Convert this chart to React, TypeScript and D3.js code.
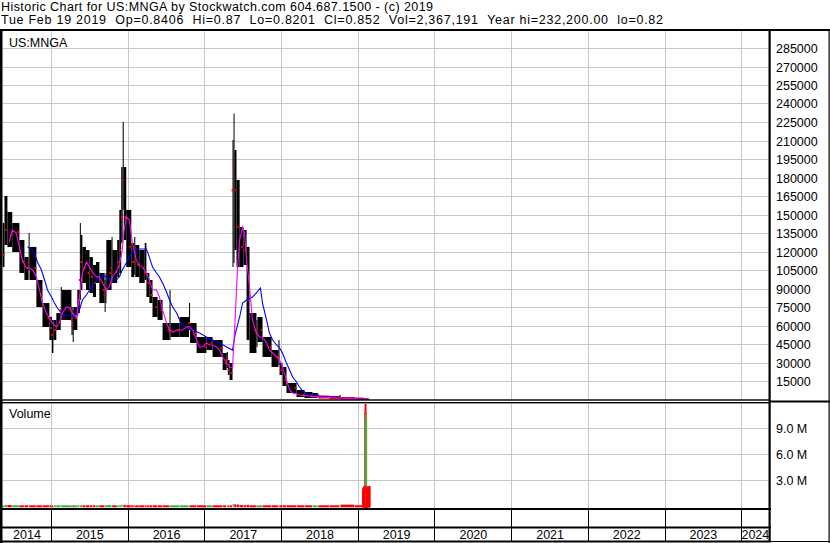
import React, { useEffect, useRef } from 'react';
import * as d3 from 'd3';

// header text
const titleLine = 'Historic Chart for US:MNGA by Stockwatch.com 604.687.1500 - (c) 2019';
const quoteParts = ['Tue Feb 19 2019', 'Op=0.8406', 'Hi=0.87', 'Lo=0.8201', 'Cl=0.852', 'Vol=2,367,191', 'Year hi=232,200.00', 'lo=0.82'];
const symbol = 'US:MNGA';

// price bars (split-adjusted)
const barDates = [
  '2014-05-12', '2014-05-22', '2014-06-05', '2014-06-28', '2014-08-01', '2014-08-25', '2014-09-14', '2014-09-18',
  '2014-10-21', '2014-11-19', '2014-12-22', '2015-01-03', '2015-01-10', '2015-01-24', '2015-02-14', '2015-02-19',
  '2015-04-06', '2015-04-12', '2015-04-15', '2015-05-04', '2015-05-16', '2015-05-20', '2015-05-28', '2015-06-14',
  '2015-07-01', '2015-07-17', '2015-08-01', '2015-08-17', '2015-09-11', '2015-09-15', '2015-09-19', '2015-10-14',
  '2015-10-18', '2015-11-10', '2015-11-20', '2015-11-29', '2015-12-06', '2015-12-11', '2015-12-23', '2016-01-16',
  '2016-01-30', '2016-02-04', '2016-02-23', '2016-03-20', '2016-03-28', '2016-04-11', '2016-04-26', '2016-05-20',
  '2016-06-13', '2016-07-16', '2016-07-21', '2016-09-02', '2016-10-17', '2016-10-22', '2016-11-22', '2017-01-08',
  '2017-02-06', '2017-03-26', '2017-04-14', '2017-04-20', '2017-04-28', '2017-05-12', '2017-05-17', '2017-05-21',
  '2017-05-31', '2017-06-15', '2017-07-03', '2017-07-18', '2017-08-01', '2017-09-03', '2017-09-08', '2017-10-02',
  '2017-11-14', '2017-12-17', '2017-12-22', '2018-01-05', '2018-01-24', '2018-03-13', '2018-04-20', '2018-05-28',
  '2018-06-20', '2018-06-25', '2018-08-17', '2018-10-04', '2018-10-09', '2018-12-14', '2019-01-26', '2019-02-19'
];
const barHigh = [
  143500, 165400, 152400, 143500, 129700, 115900, 135400, 124100,
  97300, 78600, 67300, 64900, 64900, 70500, 91600, 89200,
  75400, 73000, 75400, 89200, 143500, 133800, 124100, 121600,
  115900, 109500, 111900, 103000, 97300, 103000, 129700, 132200,
  121600, 129700, 154100, 188900, 225400, 188900, 154100, 127300,
  132200, 125700, 121600, 127300, 103000, 97300, 83500, 81100,
  62400, 89200, 62400, 67300, 78600, 62400, 51100, 51100,
  48600, 38100, 38900, 32400, 30000, 210800, 232200, 202700,
  178400, 140300, 137800, 124100, 70500, 64900, 67300, 51100,
  40500, 48600, 30000, 26800, 13800, 8100, 6500, 5700,
  5700, 3200, 3200, 4100, 2400, 1200, 600, 0.87
];
const barLow = [
  107800, 125700, 124100, 120000, 103000, 97300, 105400, 97300,
  75400, 59200, 48600, 38100, 48600, 56800, 64900, 64900,
  52700, 47000, 56800, 70500, 81100, 89200, 94900, 89200,
  86800, 83500, 94900, 78600, 71400, 78600, 89200, 94900,
  94900, 99700, 103000, 127300, 154100, 129700, 107800, 99700,
  101400, 99700, 94900, 97300, 83500, 78600, 67300, 64900,
  48600, 48600, 51100, 51100, 56800, 46200, 38100, 40500,
  34900, 24300, 25900, 20300, 16200, 107800, 111100, 121600,
  107800, 107800, 109500, 48600, 38100, 43000, 47000, 34900,
  26800, 28400, 20300, 11400, 5700, 2400, 1600, 1600,
  2400, 1600, 800, 800, 400, 200, 100, 0.82
];
const barClose = [
  117600, 137800, 133800, 136200, 111900, 107000, 111900, 107000,
  85100, 66500, 58400, 52700, 56800, 63200, 73000, 74600,
  64900, 60800, 66500, 81100, 97300, 111900, 107000, 103000,
  99700, 94900, 99700, 89200, 85100, 89200, 103000, 107000,
  103800, 111900, 121600, 148400, 178400, 148400, 124100, 111900,
  111900, 109500, 107000, 103000, 94900, 85100, 75400, 73000,
  56800, 55100, 56800, 59200, 62400, 54300, 43000, 46200,
  42200, 30000, 32400, 24300, 21900, 170000, 190000, 170000,
  140300, 124100, 121600, 81100, 56800, 54300, 56800, 43000,
  34900, 34900, 24300, 16200, 9700, 4100, 3200, 3200,
  3200, 2400, 1600, 1600, 1200, 800, 300, 0.852
];
const barVolume = [
  180000, 220000, 200000, 150000, 160000, 140000, 170000, 150000,
  130000, 140000, 120000, 160000, 150000, 130000, 180000, 160000,
  120000, 150000, 130000, 140000, 200000, 190000, 170000, 150000,
  140000, 130000, 150000, 140000, 160000, 150000, 190000, 170000,
  150000, 160000, 200000, 240000, 260000, 220000, 180000, 150000,
  160000, 140000, 150000, 170000, 140000, 130000, 120000, 130000,
  120000, 160000, 130000, 120000, 150000, 130000, 120000, 110000,
  120000, 130000, 140000, 150000, 150000, 300000, 320000, 280000,
  250000, 200000, 180000, 220000, 160000, 150000, 170000, 140000,
  130000, 140000, 150000, 160000, 150000, 140000, 130000, 120000,
  150000, 130000, 120000, 150000, 250000, 180000
];

// moving averages
const shortMaDates = [
  '2014-06-14', '2014-06-28', '2014-07-17', '2014-08-01', '2014-08-15', '2014-09-03', '2014-09-18', '2014-10-03',
  '2014-10-21', '2014-11-05', '2014-11-19', '2014-12-08', '2014-12-22', '2015-01-06', '2015-01-24', '2015-02-07',
  '2015-02-22', '2015-03-13', '2015-03-27', '2015-04-11', '2015-04-30', '2015-05-14', '2015-05-28', '2015-06-16',
  '2015-07-01', '2015-07-15', '2015-08-03', '2015-08-17', '2015-09-01', '2015-09-19', '2015-10-03', '2015-10-18',
  '2015-11-05', '2015-11-20', '2015-12-04', '2015-12-13', '2015-12-23', '2016-01-07', '2016-01-21', '2016-02-09',
  '2016-02-23', '2016-03-09', '2016-03-28', '2016-04-11', '2016-04-26', '2016-05-15', '2016-05-29', '2016-06-13',
  '2016-07-02', '2016-07-16', '2016-07-31', '2016-08-19', '2016-09-02', '2016-09-16', '2016-10-05', '2016-10-20',
  '2016-11-03', '2016-11-22', '2016-12-06', '2016-12-20', '2017-01-08', '2017-01-23', '2017-02-06', '2017-02-25',
  '2017-03-11', '2017-03-26', '2017-04-14', '2017-04-28', '2017-05-12', '2017-05-26', '2017-06-05', '2017-06-15',
  '2017-06-29', '2017-07-08', '2017-07-18', '2017-08-01', '2017-08-15', '2017-09-03', '2017-09-18', '2017-10-02',
  '2017-10-21', '2017-11-04', '2017-11-19', '2017-12-08', '2017-12-22', '2018-01-05', '2018-01-24', '2018-02-08',
  '2018-02-22', '2018-03-27', '2018-07-01', '2018-10-04', '2019-02-19'
];
const shortMaValues = [
  128100, 137800, 135400, 124100, 113500, 107000, 107000, 105400,
  99700, 89200, 78600, 70500, 66500, 62400, 59200, 62400,
  70500, 75400, 74600, 70500, 67300, 83500, 103000, 111900,
  107800, 103800, 99700, 99700, 94900, 89200, 91600, 99700,
  103800, 109500, 121600, 137800, 148400, 145900, 127300, 113500,
  109500, 107800, 103000, 97300, 89200, 89200, 83500, 73000,
  62400, 56800, 55100, 56800, 56800, 56800, 59200, 59200,
  56800, 48600, 43000, 43000, 46200, 44600, 44600, 43000,
  40500, 34900, 30000, 26800, 26000, 70500, 107800, 129700,
  140300, 135400, 113500, 91600, 64900, 54300, 51100, 51100,
  46200, 40500, 38100, 34900, 32400, 26800, 16200, 8100,
  5700, 4100, 2400, 1600, 400
];
const longMaDates = [
  '2014-09-08', '2014-09-27', '2014-10-11', '2014-10-26', '2014-11-14', '2014-11-29', '2014-12-13', '2015-01-01',
  '2015-01-15', '2015-01-29', '2015-02-17', '2015-03-03', '2015-03-17', '2015-04-06', '2015-04-20', '2015-05-04',
  '2015-05-14', '2015-05-28', '2015-06-16', '2015-07-01', '2015-07-15', '2015-08-03', '2015-08-17', '2015-09-01',
  '2015-09-19', '2015-10-03', '2015-11-05', '2015-11-20', '2015-12-04', '2015-12-23', '2016-01-07', '2016-01-21',
  '2016-02-09', '2016-03-28', '2016-04-11', '2016-04-26', '2016-05-15', '2016-05-29', '2016-06-13', '2016-07-02',
  '2016-07-16', '2016-07-31', '2016-08-19', '2016-09-02', '2016-09-16', '2016-10-05', '2016-11-03', '2016-12-06',
  '2017-01-08', '2017-02-06', '2017-03-11', '2017-04-14', '2017-05-12', '2017-05-26', '2017-06-15', '2017-06-29',
  '2017-07-18', '2017-08-15', '2017-09-03', '2017-09-22', '2017-10-02', '2017-10-21', '2017-11-04', '2017-11-19',
  '2017-12-08', '2017-12-22', '2018-01-05', '2018-01-24', '2018-02-08', '2018-02-22', '2018-03-13', '2018-03-27',
  '2018-04-11', '2018-04-29', '2018-05-28', '2018-07-01', '2018-08-17', '2018-10-04', '2018-12-14', '2019-02-19'
];
const longMaValues = [
  124100, 123200, 119200, 111900, 105400, 97300, 89200, 83500,
  78600, 74600, 70500, 68900, 68900, 68100, 67300, 68900,
  73000, 81100, 85100, 89200, 93200, 97300, 99700, 101400,
  99700, 97300, 97300, 99700, 105400, 111100, 115900, 120000,
  122400, 122400, 115900, 107800, 103000, 99700, 94900, 87600,
  81100, 75400, 70500, 64900, 60800, 59200, 56800, 54300,
  51100, 48600, 46200, 43000, 40500, 54300, 67300, 78600,
  81100, 83500, 86800, 90800, 78600, 64900, 54300, 48600,
  44600, 42200, 38100, 30000, 24300, 18600, 14600, 10500,
  7300, 5700, 4100, 3200, 2400, 1600, 1200, 400
];

// daily volume around the final spike
const spikeDates = [
  '2019-01-22', '2019-01-23', '2019-01-24', '2019-01-25', '2019-01-28', '2019-01-29', '2019-01-30', '2019-01-31',
  '2019-02-01', '2019-02-04', '2019-02-05', '2019-02-06', '2019-02-07', '2019-02-08', '2019-02-11', '2019-02-12',
  '2019-02-13', '2019-02-14', '2019-02-15', '2019-02-19'
];
const spikeVolume = [
  1900000, 2100000, 2000000, 2200000, 2300000, 2100000, 2400000, 11900000,
  10800000, 10600000, 10200000, 2200000, 2400000, 2300000, 2100000, 2200000,
  2000000, 2300000, 2100000, 2367191
];
const spikeUp = [
  false, false, false, false, false, false, false, false,
  false, true, true, false, false, false, false, false,
  false, false, false, false
];

const priceTicks = [15000, 30000, 45000, 60000, 75000, 90000, 105000, 120000, 135000, 150000,
  165000, 180000, 195000, 210000, 225000, 240000, 255000, 270000, 285000];
const volumeTicks = [3000000, 6000000, 9000000];
const volumeTickLabels = ['3.0 M', '6.0 M', '9.0 M'];
const years = [2014, 2015, 2016, 2017, 2018, 2019, 2020, 2021, 2022, 2023, 2024];

const FONT = "'Liberation Sans', Arial, sans-serif";

export default function App() {
  const svgRef = useRef<SVGSVGElement>(null);

  useEffect(() => {
    if (!svgRef.current) return;
    document.body.style.margin = '0';
    const svg = d3.select(svgRef.current);
    svg.selectAll('*').remove();

    const parse = d3.utcParse('%Y-%m-%d');
    const plotL = 2.5, plotR = 769;
    const x = d3.scaleUtc()
      .domain([parse('2015-01-01')!, parse('2024-01-01')!])
      .range([51.5, 741.7]);
    const yP = d3.scaleLinear().domain([0, 300000]).range([400, 30]);
    const yV = d3.scaleLinear().domain([0, 9000000]).range([506.8, 428.3]);
    const grid = '#c8c8c8';

    svg.append('rect').attr('width', 830).attr('height', 543).attr('fill', '#fff');

    const defs = svg.append('defs');
    defs.append('clipPath').attr('id', 'pclip').append('rect')
      .attr('x', plotL).attr('y', 31).attr('width', plotR - plotL).attr('height', 368.5);
    defs.append('clipPath').attr('id', 'vclip').append('rect')
      .attr('x', plotL).attr('y', 404).attr('width', plotR - plotL).attr('height', 104);

    // grid
    const g = svg.append('g');
    priceTicks.forEach(v => {
      const yy = Math.floor(yP(v)) + 0.5;
      g.append('line').attr('x1', plotL).attr('x2', plotR).attr('y1', yy).attr('y2', yy)
        .attr('stroke', grid).attr('stroke-width', 1);
    });
    volumeTicks.forEach(v => {
      const yy = Math.floor(yV(v)) + 0.5;
      g.append('line').attr('x1', plotL).attr('x2', plotR).attr('y1', yy).attr('y2', yy)
        .attr('stroke', grid).attr('stroke-width', 1);
    });
    years.slice(1).forEach(yr => {
      const xx = Math.floor(x(parse(`${yr}-01-01`)!)) + 0.5;
      g.append('line').attr('x1', xx).attr('x2', xx).attr('y1', 31).attr('y2', 399.5)
        .attr('stroke', grid);
      g.append('line').attr('x1', xx).attr('x2', xx).attr('y1', 403.5).attr('y2', 508)
        .attr('stroke', grid);
    });

    // price bars
    const pg = svg.append('g').attr('clip-path', 'url(#pclip)');
    const n = barDates.length;
    barDates.forEach((d, i) => {
      const x0 = x(parse(d)!);
      const x1 = i < n - 1 ? x(parse(barDates[i + 1])!) : x0 + 1;
      const w = Math.max(1, x1 - x0);
      const top = yP(barHigh[i]);
      const h = Math.max(1, yP(barLow[i]) - top);
      pg.append('rect').attr('x', x0).attr('y', top).attr('width', w).attr('height', h).attr('fill', '#000');
      const cy = yP(barClose[i]);
      if (h < 4) {
        pg.append('rect').attr('x', x0).attr('y', cy - 1.5).attr('width', w).attr('height', 3).attr('fill', '#ff0000');
      } else {
        pg.append('rect').attr('x', x0 + w - 2).attr('y', cy - 1).attr('width', 2).attr('height', 2).attr('fill', '#ff0000');
      }
    });

    const line = d3.line<[Date, number]>().x(d => x(d[0])).y(d => yP(d[1]));
    pg.append('path')
      .attr('d', line(longMaDates.map((d, i) => [parse(d)!, longMaValues[i]])))
      .attr('fill', 'none').attr('stroke', '#0000ff').attr('stroke-width', 1.1);
    pg.append('path')
      .attr('d', line(shortMaDates.map((d, i) => [parse(d)!, shortMaValues[i]])))
      .attr('fill', 'none').attr('stroke', '#ff00ff').attr('stroke-width', 1.1);

    // volume
    const vg = svg.append('g').attr('clip-path', 'url(#vclip)');
    barVolume.forEach((v, i) => {
      const x0 = x(parse(barDates[i])!);
      const x1 = x(parse(barDates[i + 1])!);
      const top = Math.min(yV(v), yV(0) - 1.5);
      const up = i === 0 ? true : barClose[i] >= barClose[i - 1];
      vg.append('rect').attr('x', x0).attr('y', top).attr('width', Math.max(1, x1 - x0 - 0.5))
        .attr('height', yV(0) - top + 0.5).attr('fill', up ? '#3cb043' : '#ff0000');
    });
    // daily bars snapped to pixel columns: down days, then up days, then the low red base
    const spikeBar = (i: number, color: string, w: number) => {
      const x0 = Math.round(x(parse(spikeDates[i])!));
      const top = yV(spikeVolume[i]);
      vg.append('rect').attr('x', x0 - (w - 1) / 2).attr('y', top).attr('width', w)
        .attr('height', yV(0) - top + 0.5).attr('fill', color);
    };
    spikeDates.forEach((_, i) => { if (!spikeUp[i]) spikeBar(i, '#ff0000', 2); });
    spikeDates.forEach((_, i) => { if (spikeUp[i]) spikeBar(i, '#3cb043', 1.3); });
    spikeDates.forEach((_, i) => { if (spikeVolume[i] < 3000000) spikeBar(i, '#ff0000', 1.5); });

    // frame
    const f = svg.append('g').attr('fill', '#000');
    f.append('rect').attr('x', 0).attr('y', 29).attr('width', 830).attr('height', 2);
    f.append('rect').attr('x', 0).attr('y', 29).attr('width', 2.5).attr('height', 514);
    f.append('rect').attr('x', 768.5).attr('y', 29).attr('width', 2.2).attr('height', 513);
    f.append('rect').attr('x', 0).attr('y', 399.3).attr('width', 770).attr('height', 1.4);
    f.append('rect').attr('x', 0).attr('y', 402).attr('width', 770).attr('height', 1.4);
    f.append('rect').attr('x', 770).attr('y', 400.5).attr('width', 60).attr('height', 2);
    f.append('rect').attr('x', 0).attr('y', 508).attr('width', 771).attr('height', 2);
    f.append('rect').attr('x', 0).attr('y', 526.5).attr('width', 771).attr('height', 2);
    f.append('rect').attr('x', 0).attr('y', 540.5).attr('width', 771).attr('height', 2);
    f.append('rect').attr('x', 828.5).attr('y', 29).attr('width', 1.2).attr('height', 514);
    f.append('rect').attr('x', 770).attr('y', 541).attr('width', 60).attr('height', 1);
    years.slice(1).forEach(yr => {
      const xx = Math.floor(x(parse(`${yr}-01-01`)!));
      f.append('rect').attr('x', xx).attr('y', 510).attr('width', 1).attr('height', 31);
    });

    // text
    const t = svg.append('g').attr('font-family', FONT).attr('font-size', 12.5).attr('fill', '#000');
    t.append('text').attr('x', 1).attr('y', 10.5).attr('font-size', 12.5)
      .attr('textLength', 432).attr('lengthAdjust', 'spacing').text(titleLine);
    t.append('text').attr('x', 1).attr('y', 23.5).attr('font-size', 12.5)
      .attr('textLength', 662).attr('lengthAdjust', 'spacing')
      .text(quoteParts.join('\u00a0\u00a0'));
    t.append('text').attr('x', 9).attr('y', 46.5).text(symbol);
    t.append('text').attr('x', 9).attr('y', 418).text('Volume');
    priceTicks.forEach(v => {
      t.append('text').attr('x', 776).attr('y', Math.floor(yP(v)) + 5).text(String(v));
    });
    volumeTicks.forEach((v, i) => {
      t.append('text').attr('x', 776).attr('y', Math.floor(yV(v)) + 5).text(volumeTickLabels[i]);
    });
    years.forEach(yr => {
      const a = Math.max(plotL, x(parse(`${yr}-01-01`)!));
      const b = Math.min(plotR, x(parse(`${yr + 1}-01-01`)!));
      t.append('text').attr('x', (a + b) / 2).attr('y', 539).attr('text-anchor', 'middle').text(String(yr));
    });
  }, []);

  return <svg ref={svgRef} width={830} height={543} style={{ display: 'block' }} />;
}
